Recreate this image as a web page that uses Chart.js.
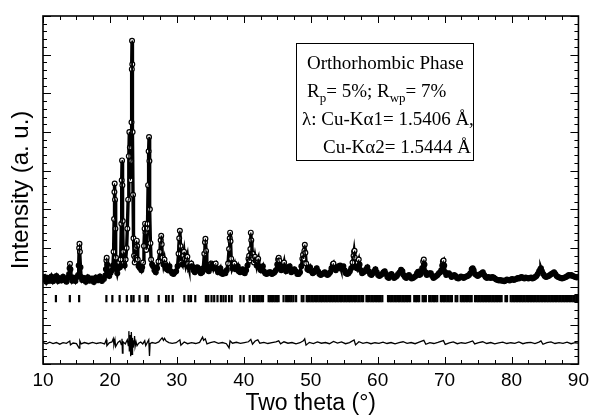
<!DOCTYPE html>
<html>
<head>
<meta charset="utf-8">
<script src="https://cdn.jsdelivr.net/npm/chart.js@4.4.1/dist/chart.umd.min.js"></script>
<style>
  html, body { margin: 0; padding: 0; background: #fff; }
  #xrd { display: block; }
</style>
</head>
<body>
<canvas id="xrd" width="594" height="417"></canvas>
<script>
// observed pattern, [2theta, intensity]
const obsPattern = [
  [10.0,275],[10.25,300],[10.5,250],[10.75,290],[11.0,262],[11.25,305],[11.5,255],[11.75,282],[12.0,310],[12.25,258],
  [12.5,288],[12.75,265],[13.0,302],[13.25,270],[13.5,252],[13.75,296],[13.9,330],[13.97,390],[14.03,437],[14.1,380],
  [14.18,300],[14.35,262],[14.6,292],[14.85,258],[15.1,300],[15.25,320],[15.33,420],[15.4,600],[15.45,644],[15.52,560],
  [15.6,400],[15.7,300],[15.85,268],[16.1,290],[16.4,250],[16.7,298],[17.0,262],[17.3,285],[17.6,248],[17.9,295],
  [18.2,266],[18.5,305],[18.8,258],[19.1,280],[19.3,315],[19.4,380],[19.47,470],[19.52,499],[19.6,430],[19.7,330],
  [19.9,310],[20.1,345],[20.3,370],[20.45,420],[20.55,560],[20.62,900],[20.67,1180],[20.71,1267],[20.76,1100],[20.82,800],
  [20.9,500],[20.98,380],[21.1,340],[21.25,390],[21.4,450],[21.5,400],[21.6,480],[21.7,850],[21.76,1300],[21.81,1506],
  [21.86,1250],[21.92,880],[21.98,560],[22.08,440],[22.2,420],[22.35,480],[22.5,600],[22.6,800],[22.72,1100],[22.82,1550],
  [22.9,1799],[22.98,1640],[23.08,1300],[23.17,1500],[23.22,1900],[23.27,2450],[23.3,2744],[23.34,2500],[23.39,1800],[23.45,1150],
  [23.52,700],[23.6,520],[23.7,450],[23.8,500],[23.9,600],[23.96,660],[24.02,676],[24.08,620],[24.16,480],[24.28,410],
  [24.4,420],[24.55,390],[24.7,370],[24.82,400],[24.95,450],[25.08,620],[25.18,800],[25.25,852],[25.32,760],[25.42,580],
  [25.55,800],[25.62,850],[25.7,1250],[25.78,1600],[25.84,1749],[25.9,1500],[25.97,1000],[26.05,650],[26.15,480],[26.3,430],
  [26.45,410],[26.65,370],[26.85,350],[27.05,390],[27.25,460],[27.45,560],[27.58,680],[27.66,727],[27.74,640],[27.85,500],
  [28.0,430],[28.15,480],[28.25,437],[28.35,420],[28.5,380],[28.7,370],[28.9,410],[29.1,360],[29.3,340],[29.5,330],
  [29.7,350],[29.9,360],[30.1,410],[30.25,540],[30.35,700],[30.45,779],[30.55,620],[30.67,450],[30.82,430],[30.97,520],
  [31.07,560],[31.17,490],[31.32,430],[31.47,480],[31.57,510],[31.67,440],[31.8,400],[31.97,420],[32.15,440],[32.3,410],
  [32.48,370],[32.68,350],[32.88,380],[33.05,400],[33.2,390],[33.38,360],[33.58,340],[33.78,350],[33.95,390],[34.1,540],
  [34.2,660],[34.27,696],[34.36,570],[34.48,430],[34.6,370],[34.77,360],[34.95,390],[35.15,440],[35.3,430],[35.46,390],
  [35.66,430],[35.8,440],[35.95,380],[36.15,350],[36.35,370],[36.5,390],[36.65,340],[36.85,330],[37.05,350],[37.25,340],
  [37.45,370],[37.65,440],[37.8,590],[37.9,700],[37.95,759],[38.02,670],[38.12,490],[38.27,390],[38.45,420],[38.6,440],
  [38.75,380],[38.95,390],[39.1,410],[39.25,360],[39.45,350],[39.65,370],[39.8,380],[39.95,350],[40.15,340],[40.35,370],
  [40.55,420],[40.7,490],[40.8,520],[40.9,470],[40.98,590],[41.05,759],[41.12,680],[41.22,520],[41.32,540],[41.42,490],
  [41.52,450],[41.67,510],[41.77,470],[41.92,420],[42.05,470],[42.15,489],[42.25,410],[42.4,390],[42.55,370],[42.7,390],
  [42.85,410],[43.0,360],[43.2,340],[43.4,330],[43.6,340],[43.8,350],[44.0,350],[44.2,330],[44.4,340],[44.6,350],
  [44.8,370],[45.0,430],[45.13,480],[45.22,499],[45.3,470],[45.42,390],[45.6,370],[45.8,390],[45.95,430],[46.02,450],
  [46.12,400],[46.32,360],[46.52,380],[46.72,400],[46.85,410],[46.95,380],[47.1,350],[47.3,360],[47.55,380],[47.75,360],
  [48.0,330],[48.2,330],[48.4,350],[48.6,410],[48.75,490],[48.85,530],[48.95,490],[49.05,570],[49.12,634],[49.2,550],
  [49.32,440],[49.5,380],[49.7,370],[49.9,400],[50.1,360],[50.3,340],[50.5,350],[50.7,370],[50.9,390],[51.1,360],
  [51.3,330],[51.5,320],[51.7,330],[51.9,340],[52.1,350],[52.3,330],[52.5,320],[52.7,330],[52.9,350],[53.1,390],
  [53.3,430],[53.39,440],[53.55,390],[53.75,370],[53.95,390],[54.15,410],[54.39,420],[54.52,390],[54.7,400],[54.88,410],
  [55.05,370],[55.25,340],[55.45,330],[55.65,340],[55.85,360],[56.05,390],[56.25,450],[56.4,520],[56.48,560],[56.55,572],
  [56.6,500],[56.72,410],[56.88,390],[57.03,450],[57.18,480],[57.3,430],[57.48,370],[57.68,340],[57.88,350],[58.08,360],
  [58.28,380],[58.47,400],[58.67,360],[58.87,330],[59.07,320],[59.27,340],[59.47,360],[59.67,380],[59.87,350],[60.07,320],
  [60.27,310],[60.47,320],[60.67,330],[60.87,350],[61.06,360],[61.26,330],[61.46,300],[61.66,290],[61.86,310],[62.06,330],
  [62.26,310],[62.46,290],[62.66,300],[62.86,310],[63.06,330],[63.3,350],[63.5,375],[63.7,360],[63.88,320],[64.08,300],
  [64.28,290],[64.48,310],[64.68,320],[64.88,300],[65.08,285],[65.28,290],[65.48,300],[65.68,310],[65.88,340],[66.05,355],
  [66.25,320],[66.45,330],[66.65,390],[66.8,460],[66.9,480],[67.0,430],[67.15,350],[67.35,320],[67.55,330],[67.75,340],
  [67.95,340],[68.15,310],[68.35,290],[68.55,300],[68.75,310],[68.95,320],[69.15,340],[69.35,350],[69.5,370],[69.65,420],
  [69.75,460],[69.85,470],[69.95,420],[70.1,350],[70.25,320],[70.45,330],[70.65,340],[70.85,320],[71.05,300],[71.25,310],
  [71.45,320],[71.65,310],[71.85,290],[72.05,285],[72.25,295],[72.45,305],[72.65,300],[72.85,290],[73.05,300],[73.25,305],
  [73.45,310],[73.65,320],[73.85,340],[74.05,380],[74.2,390],[74.35,370],[74.55,330],[74.75,320],[74.95,310],[75.15,320],
  [75.35,330],[75.55,340],[75.72,350],[75.92,320],[76.12,300],[76.32,290],[76.52,300],[76.72,295],[76.92,290],[77.12,300],
  [77.32,295],[77.52,285],[77.72,275],[77.92,270],[78.12,265],[78.32,270],[78.52,260],[78.72,265],[78.92,255],[79.12,265],
  [79.32,275],[79.52,270],[79.72,265],[79.92,275],[80.12,280],[80.32,270],[80.52,275],[80.72,280],[80.92,290],[81.12,285],
  [81.32,295],[81.52,300],[81.72,290],[81.92,285],[82.12,295],[82.32,290],[82.52,285],[82.72,290],[82.92,295],[83.12,285],
  [83.32,290],[83.52,300],[83.72,310],[83.92,330],[84.12,360],[84.3,380],[84.4,390],[84.55,360],[84.75,330],[84.95,310],
  [85.15,300],[85.35,305],[85.55,310],[85.75,320],[85.95,330],[86.15,340],[86.36,350],[86.55,330],[86.75,310],[86.95,300],
  [87.15,295],[87.35,290],[87.55,285],[87.75,290],[87.95,295],[88.15,300],[88.35,310],[88.55,320],[88.75,315],[88.95,320],
  [89.15,310],[89.35,305],[89.55,300],[89.75,295],[90.0,300]
];

// difference curve (obs - calc), shifted down
const diffPattern = [
  [10,-380],[10.5,-392],[11,-375],[11.5,-388],[12,-378],[12.5,-395],[13,-380],[13.5,-386],[14.0,-362],[14.1,-402],
  [14.5,-383],[15.0,-390],[15.4,-436],[15.5,-360],[15.7,-392],[16.2,-378],[16.8,-390],[17.4,-376],[18.0,-388],[18.6,-380],
  [19.2,-392],[19.45,-350],[19.55,-410],[19.9,-382],[20.3,-372],[20.5,-338],[20.6,-400],[20.75,-350],[20.85,-420],[21.2,-378],
  [21.5,-360],[21.7,-400],[21.8,-340],[21.87,-486],[21.95,-370],[22.3,-392],[22.6,-350],[22.75,-410],[22.83,-260],[22.9,-470],
  [23.0,-300],[23.1,-520],[23.2,-270],[23.3,-500],[23.38,-330],[23.48,-430],[23.6,-360],[23.68,-310],[23.76,-420],[23.9,-370],
  [24.05,-410],[24.3,-385],[24.6,-372],[24.9,-392],[25.2,-360],[25.35,-410],[25.6,-375],[25.8,-350],[25.91,-517],[26.0,-390],
  [26.3,-378],[26.8,-386],[27.3,-372],[27.6,-345],[27.8,-330],[28.0,-355],[28.15,-335],[28.4,-362],[28.8,-378],[29.3,-386],
  [29.9,-380],[30.45,-350],[30.6,-405],[31.1,-372],[31.6,-390],[32.2,-380],[32.8,-388],[33.4,-376],[33.84,-322],[34.0,-355],
  [34.25,-340],[34.5,-392],[35.0,-380],[35.6,-368],[36.2,-386],[36.8,-378],[37.4,-390],[37.8,-434],[37.95,-360],[38.3,-385],
  [38.9,-375],[39.5,-386],[40.1,-378],[40.7,-370],[41.05,-345],[41.3,-395],[41.7,-362],[42.1,-350],[42.4,-385],[43.0,-376],
  [43.6,-388],[44.2,-380],[44.8,-372],[45.22,-360],[45.5,-392],[46.0,-370],[46.6,-385],[47.2,-378],[47.8,-392],[48.4,-380],
  [48.9,-360],[49.1,-340],[49.3,-405],[49.8,-376],[50.4,-388],[51.0,-372],[51.6,-385],[52.2,-378],[52.8,-390],[53.4,-366],
  [54.0,-384],[54.6,-372],[55.2,-390],[55.8,-378],[56.48,-352],[56.7,-402],[57.2,-370],[57.8,-386],[58.4,-376],[59.0,-390],
  [59.6,-380],[60.2,-386],[60.8,-374],[61.4,-388],[62.0,-378],[62.6,-392],[63.2,-380],[63.8,-370],[64.4,-386],[65.0,-378],
  [65.6,-390],[66.2,-374],[66.9,-356],[67.2,-396],[67.8,-380],[68.4,-388],[69.0,-376],[69.83,-358],[70.1,-398],[70.7,-382],
  [71.3,-372],[71.9,-390],[72.5,-380],[73.1,-386],[73.7,-374],[74.2,-362],[74.5,-392],[75.1,-380],[75.7,-370],[76.3,-388],
  [76.9,-378],[77.5,-392],[78.1,-382],[78.7,-374],[79.3,-388],[79.9,-380],[80.5,-386],[81.1,-372],[81.7,-390],[82.3,-380],
  [82.9,-376],[83.5,-388],[84.1,-374],[84.4,-362],[84.7,-396],[85.3,-380],[85.9,-372],[86.5,-388],[87.1,-378],[87.7,-386],
  [88.3,-374],[88.9,-390],[89.5,-380],[90.0,-384]
];

// Bragg reflection positions (2theta)
const braggPositions = [
  11.93, 14.01, 15.40, 19.47, 20.36, 21.45, 22.53, 23.19, 23.53, 24.42, 25.32, 25.66, 27.29, 28.39, 28.78, 29.38,
  31.12, 31.75, 32.11, 32.75, 34.34, 34.69, 35.18, 35.58, 36.07, 36.58, 36.95, 37.30, 37.80, 38.19, 39.49, 39.99,
  40.88, 41.38, 41.62, 41.87, 42.12, 42.37, 42.62, 42.87, 43.71, 43.95, 44.20, 44.45, 44.70, 44.95, 45.20, 45.94,
  46.33, 46.60, 46.88, 47.15, 47.43, 47.82, 48.66, 48.91,
  49.40, 49.62, 49.85, 50.10, 50.31, 50.55, 50.80, 51.02, 51.27, 51.50, 51.71, 51.96, 52.20, 52.41, 52.66, 52.90,
  53.12, 53.35, 53.60, 53.82, 54.05, 54.30, 54.52, 54.75, 55.00, 55.22, 55.45, 55.70, 55.91, 56.15, 56.40, 56.62,
  56.85, 57.10, 57.32, 57.58, 57.83, 58.33, 58.55, 58.80, 59.05, 59.27, 59.50, 59.76, 59.98, 60.22, 60.45, 60.70,
  61.55, 61.78, 62.02, 62.25, 62.50, 62.72, 62.97, 63.20, 63.43, 63.68, 63.90, 64.13, 64.38, 64.60, 64.85,
  65.47, 65.72, 65.95, 66.20, 66.72, 66.95, 67.20, 67.70, 67.93, 68.18, 68.42, 68.65, 68.90, 69.45, 69.68, 69.92,
  70.15, 70.40, 70.63, 70.88, 71.10, 71.65, 71.90, 72.42, 72.65, 72.88, 73.12, 73.35, 73.60, 73.83, 74.05, 74.55,
  74.78, 75.02, 75.25, 75.48, 75.72, 75.95, 76.18, 76.42, 76.65, 76.88, 77.12, 77.35, 77.58, 77.82, 78.05, 78.28,
  78.52, 79.10, 79.33, 79.88, 80.12, 80.35, 80.58, 80.82, 81.05, 81.28, 81.52, 81.75, 81.98, 82.22, 82.45, 82.68,
  82.92, 83.15, 83.38, 83.62, 83.85, 84.08, 84.32, 84.55, 84.78, 85.02, 85.25, 85.48, 85.72, 85.95, 86.18, 86.42,
  86.65, 86.88, 87.12, 87.35, 87.58, 87.82, 88.05, 88.28, 88.52, 88.75, 88.98, 89.22, 89.45, 89.68, 89.90
];

const xTickValues = [10, 20, 30, 40, 50, 60, 70, 80, 90];
const braggLevel = 77;

const infoLines = [
  { x: 307, y: 69, runs: [['Orthorhombic Phase']] },
  { x: 307, y: 97, runs: [['R'], ['p', true], ['= 5%; R'], ['wp', true], ['= 7%']] },
  { x: 302, y: 125, runs: [['λ: Cu-Kα1= 1.5406 Å,']] },
  { x: 323, y: 153, runs: [['Cu-Kα2= 1.5444 Å']] }
];

const sans = '"Liberation Sans", Arial, Helvetica, sans-serif';
const serif = '"Liberation Serif", "Times New Roman", serif';

// frame with inward ticks on all four sides
const frameTicks = {
  id: 'frameTicks',
  afterDraw(chart) {
    const { ctx, chartArea: a, scales: { x, y } } = chart;
    ctx.save();
    ctx.strokeStyle = '#000';
    ctx.lineWidth = 1;
    ctx.beginPath();
    for (let i = 0; 10 + i * 2.5 <= 90; i++) {
      const px = Math.round(x.getPixelForValue(10 + i * 2.5)) + 0.5;
      const len = i % 4 === 0 ? 7 : 4;
      ctx.moveTo(px, a.bottom); ctx.lineTo(px, a.bottom - len);
      ctx.moveTo(px, a.top); ctx.lineTo(px, a.top + len);
    }
    for (let i = 0; y.min + i * 80 <= y.max + 0.1; i++) {
      const py = Math.round(y.getPixelForValue(y.min + i * 80)) + 0.5;
      const len = i % 5 === 0 ? 8 : 4;
      ctx.moveTo(a.left, py); ctx.lineTo(a.left + len, py);
      ctx.moveTo(a.right, py); ctx.lineTo(a.right - len, py);
    }
    ctx.stroke();
    ctx.lineWidth = 1.6;
    ctx.strokeRect(a.left, a.top, a.right - a.left, a.bottom - a.top);
    ctx.restore();
  }
};

const infoBox = {
  id: 'infoBox',
  afterDraw(chart) {
    const ctx = chart.ctx;
    ctx.save();
    ctx.fillStyle = '#fff';
    ctx.fillRect(296, 43, 177, 117);
    ctx.strokeStyle = '#000';
    ctx.lineWidth = 1;
    ctx.strokeRect(296.5, 43.5, 177, 117);
    ctx.fillStyle = '#000';
    ctx.textBaseline = 'alphabetic';
    infoLines.forEach(line => {
      let cx = line.x;
      line.runs.forEach(([t, sub]) => {
        ctx.font = sub ? '13px ' + serif : '19px ' + serif;
        ctx.fillText(t, cx, line.y + (sub ? 5 : 0));
        cx += ctx.measureText(t).width;
      });
    });
    ctx.restore();
  }
};

const pts = obsPattern.map(([x, y]) => ({ x, y }));

new Chart(document.getElementById('xrd'), {
  type: 'scatter',
  data: {
    datasets: [
      {
        label: 'Calculated',
        data: pts,
        showLine: true,
        borderColor: '#000',
        borderWidth: 1,
        pointRadius: 0,
        order: 0
      },
      {
        label: 'Observed',
        data: pts,
        showLine: true,
        borderColor: '#000',
        borderWidth: 3.4,
        pointRadius: 2.4,
        // dense overlapping circles in the background read as solid black
        pointBackgroundColor: c => (c.raw && c.raw.y > 430 ? '#fff' : '#000'),
        pointBorderColor: '#000',
        pointBorderWidth: 1.2,
        order: 1
      },
      {
        label: 'Bragg positions',
        data: braggPositions.map(x => ({ x, y: braggLevel })),
        showLine: false,
        pointStyle: 'line',
        rotation: 90,
        pointRadius: 3.6,
        pointBorderColor: '#000',
        pointBorderWidth: 2.2,
        order: 2
      },
      {
        label: 'Difference',
        data: diffPattern.map(([x, y]) => ({ x, y })),
        showLine: true,
        borderColor: '#000',
        borderWidth: 1.3,
        pointRadius: 0,
        order: 3
      }
    ]
  },
  options: {
    responsive: false,
    animation: false,
    devicePixelRatio: 1,
    layout: { padding: { top: 16, right: 13, left: 0, bottom: 0 } },
    plugins: {
      legend: { display: false },
      tooltip: { enabled: false }
    },
    scales: {
      x: {
        type: 'linear',
        min: 10,
        max: 90,
        afterFit(s) { s.height = 53; },
        afterBuildTicks(s) { s.ticks = xTickValues.map(v => ({ value: v })); },
        ticks: { color: '#000', padding: 5, maxRotation: 0, autoSkip: false, font: { family: sans, size: 19 } },
        grid: { display: false, drawTicks: false },
        border: { display: false },
        title: {
          display: true,
          text: 'Two theta (°)',
          color: '#000',
          font: { family: sans, size: 23 },
          padding: { top: 0, bottom: 0 }
        }
      },
      y: {
        type: 'linear',
        min: -600,
        max: 3000,
        afterFit(s) { s.width = 43; },
        ticks: { display: false },
        grid: { display: false, drawTicks: false },
        border: { display: false },
        title: {
          display: true,
          text: 'Intensity (a. u.)',
          color: '#000',
          font: { family: sans, size: 24 },
          padding: { top: 7, bottom: 0 }
        }
      }
    }
  },
  plugins: [frameTicks, infoBox]
});
</script>
</body>
</html>
